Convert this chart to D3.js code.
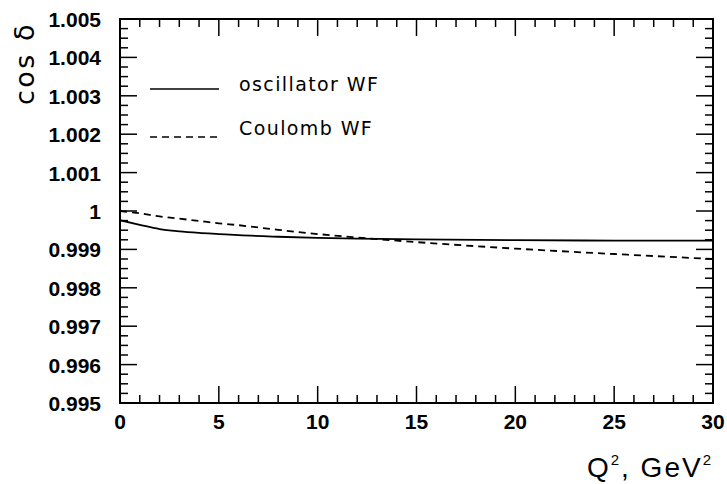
<!DOCTYPE html>
<html><head><meta charset="utf-8">
<script src="https://cdn.jsdelivr.net/npm/d3@7"></script>
<style>body{margin:0;background:#fff}svg{display:block}</style>
</head><body>
<svg id="c" width="727" height="484"></svg>
<script>
const q2 = [0, 1, 2, 3, 4, 5, 6, 8, 10, 12, 15, 20, 25, 30];
const oscillator = [0.99976, 0.99964, 0.99953, 0.99947, 0.99943, 0.99940, 0.99937, 0.99933, 0.99930, 0.99928, 0.99926, 0.99924, 0.99923, 0.99923];
const coulomb = [1.0000, 0.99994, 0.99986, 0.99980, 0.99974, 0.99968, 0.99963, 0.99951, 0.99940, 0.99931, 0.99919, 0.99902, 0.99888, 0.99875];
const xTicks = [0, 5, 10, 15, 20, 25, 30];
const yTicks = [0.995, 0.996, 0.997, 0.998, 0.999, 1.000, 1.001, 1.002, 1.003, 1.004, 1.005];
const yTickLabels = ["0.995", "0.996", "0.997", "0.998", "0.999", "1", "1.001", "1.002", "1.003", "1.004", "1.005"];
const legendLabels = ["oscillator WF", "Coulomb WF"];

const L = 120, R = 713, T = 19, B = 403;
const svg = d3.select("#c");
const x = d3.scaleLinear().domain([0, 30]).range([L, R]);
const y = d3.scaleLinear().domain([0.995, 1.005]).range([B, T]);

const major = 17, minor = 8;
const xMinor = d3.range(0, 30.001, 1);
const yMinor = d3.range(0, 41).map(i => 0.995 + i * 0.00025);
const isMajorX = v => Math.abs(v / 5 - Math.round(v / 5)) < 1e-6;
const isMajorY = v => Math.abs((v - 0.995) / 0.001 - Math.round((v - 0.995) / 0.001)) < 1e-6;

const g = svg.append("g").attr("stroke", "#000").attr("stroke-width", 1.5);
xMinor.forEach(v => {
  const len = isMajorX(v) ? major : minor;
  g.append("line").attr("x1", x(v)).attr("x2", x(v)).attr("y1", B).attr("y2", B - len);
  g.append("line").attr("x1", x(v)).attr("x2", x(v)).attr("y1", T).attr("y2", T + len);
});
yMinor.forEach(v => {
  const len = isMajorY(v) ? major : minor;
  g.append("line").attr("x1", L).attr("x2", L + len).attr("y1", y(v)).attr("y2", y(v));
  g.append("line").attr("x1", R).attr("x2", R - len).attr("y1", y(v)).attr("y2", y(v));
});
svg.append("rect").attr("x", L).attr("y", T).attr("width", R - L).attr("height", B - T)
  .attr("fill", "none").attr("stroke", "#000").attr("stroke-width", 2);

const tf = "'Liberation Sans', Arial, sans-serif";
svg.append("g").selectAll("text").data(xTicks).join("text")
  .attr("x", d => x(d)).attr("y", B + 26).attr("text-anchor", "middle")
  .attr("font-family", tf).attr("font-weight", "bold").attr("font-size", 21).text(d => d);
svg.append("g").selectAll("text").data(yTicks).join("text")
  .attr("x", 101).attr("y", d => y(d) + 8).attr("text-anchor", "end")
  .attr("font-family", tf).attr("font-weight", "bold").attr("font-size", 21)
  .text((d, i) => yTickLabels[i]);

svg.append("text").attr("transform", "translate(34,105) rotate(-90)")
  .attr("font-family", "'DejaVu Sans', sans-serif").attr("font-size", 27)
  .attr("letter-spacing", 2.5).text("cos δ");
const xt = svg.append("text").attr("x", R).attr("y", 477).attr("text-anchor", "end")
  .attr("font-family", tf).attr("font-size", 28).attr("letter-spacing", 2);
xt.append("tspan").text("Q");
xt.append("tspan").attr("dy", -12).attr("font-size", 15).text("2");
xt.append("tspan").attr("dy", 12).text(", GeV");
xt.append("tspan").attr("dy", -12).attr("font-size", 15).text("2");

const line = d3.line().x(d => x(d[0])).y(d => y(d[1])).curve(d3.curveMonotoneX);
svg.append("clipPath").attr("id", "clip").append("rect")
  .attr("x", L).attr("y", T).attr("width", R - L).attr("height", B - T);
const series = [
  {vals: oscillator, dash: null},
  {vals: coulomb, dash: "7,5"}
];
series.forEach(s => {
  svg.append("path").datum(q2.map((q, i) => [q, s.vals[i]]))
    .attr("d", line).attr("fill", "none").attr("stroke", "#000").attr("stroke-width", 1.8)
    .attr("stroke-dasharray", s.dash).attr("clip-path", "url(#clip)");
});

const legY = [89, 137];
series.forEach((s, i) => {
  svg.append("line").attr("x1", 150).attr("x2", 219).attr("y1", legY[i]).attr("y2", legY[i])
    .attr("stroke", "#000").attr("stroke-width", 1.5).attr("stroke-dasharray", s.dash);
  svg.append("text").attr("x", 239).attr("y", legY[i] + 2 - (i ? 4 : 0))
    .attr("font-family", "'DejaVu Sans', sans-serif").attr("font-size", 19)
    .attr("letter-spacing", 1.4).text(legendLabels[i]);
});
</script>
</body></html>
